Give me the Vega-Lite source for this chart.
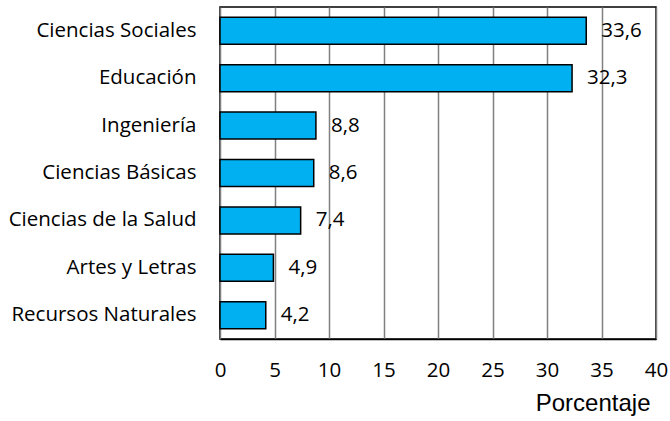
{
  "$schema": "https://vega.github.io/schema/vega-lite/v6.json",
  "width": 436,
  "height": 332,
  "autosize": {"type": "none"},
  "padding": {"left": 220, "top": 7, "right": 14, "bottom": 82},
  "background": "white",
  "config": {"view": {"stroke": "black", "strokeWidth": 1.5}},
  "data": {
    "values": [
      {"area": "Ciencias Sociales", "pct": 33.6, "label": "33,6"},
      {"area": "Educación", "pct": 32.3, "label": "32,3"},
      {"area": "Ingeniería", "pct": 8.8, "label": "8,8"},
      {"area": "Ciencias Básicas", "pct": 8.6, "label": "8,6"},
      {"area": "Ciencias de la Salud", "pct": 7.4, "label": "7,4"},
      {"area": "Artes y Letras ", "pct": 4.9, "label": "4,9"},
      {"area": "Recursos Naturales", "pct": 4.2, "label": "4,2"}
    ]
  },
  "encoding": {
    "y": {
      "field": "area",
      "type": "nominal",
      "sort": null,
      "scale": {"paddingInner": 0.43, "paddingOuter": 0.215},
      "axis": {
        "title": null,
        "ticks": false,
        "domain": false,
        "labelFont": "Open Sans",
        "labelFontSize": 20.5,
        "labelColor": "black",
        "labelPadding": 24,
        "labelLimit": 300
      }
    },
    "x": {
      "field": "pct",
      "type": "quantitative",
      "scale": {"domain": [0, 40], "nice": false},
      "axis": {
        "values": [0, 5, 10, 15, 20, 25, 30, 35, 40],
        "ticks": false,
        "domain": true,
        "domainColor": "black",
        "domainWidth": 1.5,
        "grid": true,
        "gridColor": "#808080",
        "gridWidth": 1.5,
        "labelFont": "Open Sans",
        "labelFontSize": 20.5,
        "labelColor": "black",
        "labelPadding": 21,
        "labelFlush": false,
        "title": "Porcentaje",
        "titleFont": "Liberation Sans",
        "titleFontSize": 24,
        "titleFontWeight": "normal",
        "titleColor": "black",
        "titleAnchor": "end",
        "titleAlign": "right",
        "titleBaseline": "middle",
        "titleX": 430,
        "titleY": 64
      }
    }
  },
  "layer": [
    {
      "mark": {"type": "bar", "color": "#00B0F0", "stroke": "black", "strokeWidth": 1.5}
    },
    {
      "mark": {"type": "text", "align": "left", "baseline": "middle", "dx": 15, "font": "Open Sans", "fontSize": 20.5, "color": "black"},
      "encoding": {"text": {"field": "label"}}
    }
  ]
}
